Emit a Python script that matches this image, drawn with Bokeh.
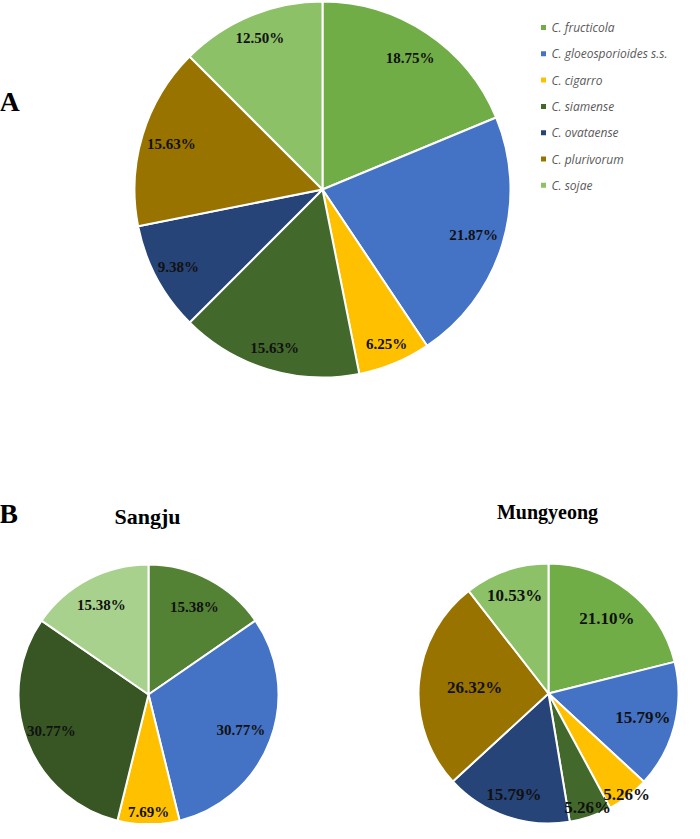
import math
from bokeh.plotting import figure
from bokeh.models import Range1d, ColumnDataSource
from bokeh.core.properties import value
from bokeh.embed import file_html
from bokeh.resources import INLINE

# ---------------- data ----------------
species = ["C. fructicola", "C. gloeosporioides s.s.", "C. cigarro", "C. siamense",
           "C. ovataense", "C. plurivorum", "C. sojae"]
species_colors = ["#70AD47", "#4472C4", "#FFC000", "#43682B", "#264478", "#997300", "#8CC168"]

total_values = [18.75, 21.87, 6.25, 15.63, 9.38, 15.63, 12.50]
total_labels = ["18.75%", "21.87%", "6.25%", "15.63%", "9.38%", "15.63%", "12.50%"]

sangju_values = [15.38, 30.77, 7.69, 30.77, 15.38]
sangju_labels = ["15.38%", "30.77%", "7.69%", "30.77%", "15.38%"]
sangju_colors = ["#548235", "#4472C4", "#FFC000", "#375623", "#A9D18E"]

mung_values = [21.10, 15.79, 5.26, 5.26, 15.79, 26.32, 10.53]
mung_labels = ["21.10%", "15.79%", "5.26%", "5.26%", "15.79%", "26.32%", "10.53%"]
mung_colors = ["#70AD47", "#4472C4", "#FFC000", "#43682B", "#264478", "#997300", "#8CC168"]

# ---------------- layout ----------------
W, H = 684, 823
OX, OY = 8, 5   # shift of the reference picture into the figure


def X(sx):
    return sx - OX


def Y(sy):
    return H - (sy - OY)


p = figure(width=W, height=H, output_backend="svg", toolbar_location=None,
           x_range=Range1d(0, W), y_range=Range1d(0, H), min_border=0)
p.axis.visible = False
p.grid.visible = False
p.outline_line_color = None
p.background_fill_color = "white"

SERIF = value("Liberation Serif")


def pie(cx, cy, r, vals, labels, colors, lab_frac, font_size):
    tot = sum(vals)
    starts, ends, lx, ly = [], [], [], []
    cum = 0.0
    for v, f in zip(vals, lab_frac):
        a0 = math.pi / 2 - 2 * math.pi * cum / tot
        cum += v
        a1 = math.pi / 2 - 2 * math.pi * cum / tot
        starts.append(a0)
        ends.append(a1)
        mid = (a0 + a1) / 2
        lx.append(X(cx) + f * r * math.cos(mid))
        ly.append(Y(cy) + f * r * math.sin(mid))
    src = ColumnDataSource(dict(x=[X(cx)] * len(vals), y=[Y(cy)] * len(vals),
                                s=starts, e=ends, c=colors))
    p.wedge(x="x", y="y", radius=r, start_angle="s", end_angle="e", direction="clock",
            fill_color="c", line_color="white", line_width=2, source=src)
    tsrc = ColumnDataSource(dict(x=lx, y=ly, t=labels))
    p.text(x="x", y="y", text="t", source=tsrc, text_align="center",
           text_baseline="middle", text_font=SERIF, text_font_style="bold",
           text_font_size=font_size, text_color="#111111")


pie(330, 194, 188, total_values, total_labels, species_colors,
    [0.84, 0.84, 0.89, 0.88, 0.87, 0.84, 0.87], "15px")
pie(156, 699, 130, sangju_values, sangju_labels, sangju_colors,
    [0.76, 0.76, 0.9, 0.8, 0.78], "15px")
pie(556, 698, 130, mung_values, mung_labels, mung_colors,
    [0.73, 0.75, 0.98, 0.93, 0.82, 0.57, 0.8], "17px")

# panel letters and titles
p.text(x=[X(17)], y=[Y(106)], text=["A"], text_align="center", text_baseline="middle",
       text_font=SERIF, text_font_style="bold", text_font_size="28px", text_color="black")
p.text(x=[X(16)], y=[Y(518)], text=["B"], text_align="center", text_baseline="middle",
       text_font=SERIF, text_font_style="bold", text_font_size="28px", text_color="black")
p.text(x=[X(155)], y=[Y(521)], text=["Sangju"], text_align="center", text_baseline="middle",
       text_font=SERIF, text_font_style="bold", text_font_size="22px", text_color="black")
p.text(x=[X(555)], y=[Y(516)], text=["Mungyeong"], text_align="center", text_baseline="middle",
       text_font=SERIF, text_font_style="bold", text_font_size="20px", text_color="black")

# legend
leg_y = [Y(32 + 26.3 * i) for i in range(len(species))]
p.scatter(x=[X(551)] * len(species), y=leg_y, marker="square", size=5,
          fill_color=species_colors, line_color=None)
p.text(x=[X(559)] * len(species), y=leg_y, text=species, text_align="left",
       text_baseline="middle", text_font=value("Open Sans"), text_font_style="italic",
       text_font_size="12px", text_color="#595959")

open("out.html", "w").write(file_html(p, INLINE))
